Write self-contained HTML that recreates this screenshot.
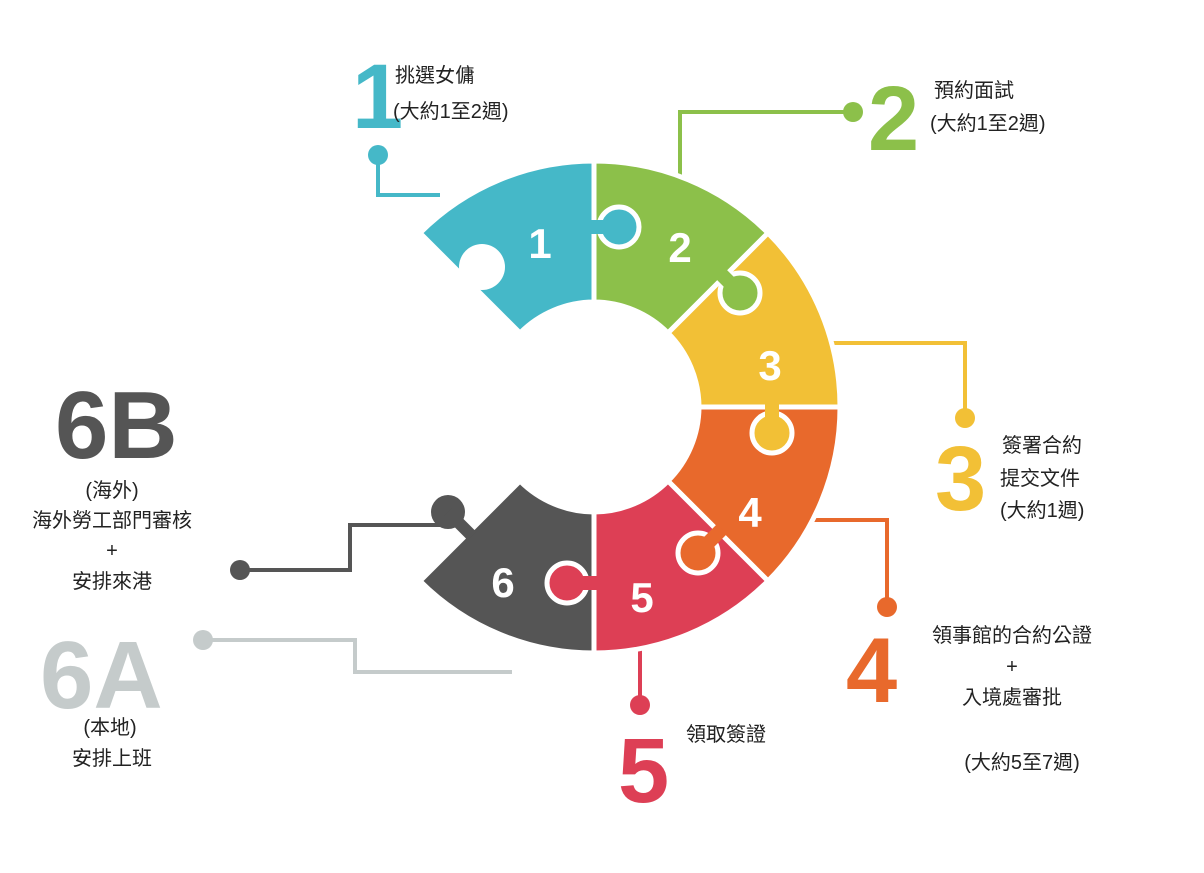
<!DOCTYPE html>
<html><head><meta charset="utf-8"><style>
html,body{margin:0;padding:0;background:#fff;}
body{width:1204px;height:868px;overflow:hidden;}
svg text{font-family:"Liberation Sans","Noto Sans CJK TC",sans-serif;}
.t{font-size:20px;fill:#222;}
.big{font-weight:bold;}
</style></head><body>
<svg width="1204" height="868" viewBox="0 0 1204 868" xmlns="http://www.w3.org/2000/svg">
<g fill="none" stroke-width="4">
<path d="M378 155 V195 H440" stroke="#45b8c8"/>
<path d="M680 180 V112 H853" stroke="#8cc04a"/>
<path d="M830 343 H965 V418" stroke="#f2c036"/>
<path d="M810 520 H887 V607" stroke="#e8692c"/>
<path d="M640 650 V705" stroke="#dd3f55"/>
<path d="M440 525 H350 V570 H240" stroke="#555"/>
<path d="M203 640 H355 V672 H512" stroke="#c5cbcb"/>
</g>
<circle cx="378" cy="155" r="10" fill="#45b8c8"/>
<circle cx="853" cy="112" r="10" fill="#8cc04a"/>
<circle cx="965" cy="418" r="10" fill="#f2c036"/>
<circle cx="887" cy="607" r="10" fill="#e8692c"/>
<circle cx="640" cy="705" r="10" fill="#dd3f55"/>
<circle cx="240" cy="570" r="10" fill="#555"/>
<circle cx="203" cy="640" r="10" fill="#c5cbcb"/>

<g stroke="#fff" stroke-width="5">
<path d="M594 161 A246 246 0 0 0 420 233 L520 333 A105 105 0 0 1 594 302 Z" fill="#45b8c8"/>
<path d="M768 233 A246 246 0 0 0 594 161 L594 302 A105 105 0 0 1 668 333 Z" fill="#8cc04a"/>
<path d="M840 407 A246 246 0 0 0 768 233 L668 333 A105 105 0 0 1 699 407 Z" fill="#f2c036"/>
<path d="M768 581 A246 246 0 0 0 840 407 L699 407 A105 105 0 0 1 668 481 Z" fill="#e8692c"/>
<path d="M594 653 A246 246 0 0 0 768 581 L668 481 A105 105 0 0 1 594 512 Z" fill="#dd3f55"/>
<path d="M420 581 A246 246 0 0 0 594 653 L594 512 A105 105 0 0 1 520 481 Z" fill="#555"/>
</g>
<g stroke="#fff" stroke-width="5">
<circle cx="619" cy="227" r="20" fill="#45b8c8"/>
<circle cx="740" cy="293" r="20" fill="#8cc04a"/>
<circle cx="772" cy="433" r="20" fill="#f2c036"/>
<circle cx="698" cy="553" r="20" fill="#e8692c"/>
<circle cx="567" cy="583" r="20" fill="#dd3f55"/>
</g>
<g stroke-width="14" fill="none">
<line x1="619" y1="227" x2="588" y2="227" stroke="#45b8c8"/>
<line x1="740" y1="293" x2="718" y2="271" stroke="#8cc04a"/>
<line x1="772" y1="433" x2="772" y2="402" stroke="#f2c036"/>
<line x1="698" y1="553" x2="722" y2="529" stroke="#e8692c"/>
<line x1="567" y1="583" x2="599" y2="583" stroke="#dd3f55"/>
</g>
<circle cx="482" cy="267" r="23" fill="#fff"/>
<line x1="482" y1="267" x2="458" y2="291" stroke="#fff" stroke-width="16"/>
<circle cx="448" cy="512" r="17" fill="#555"/>
<line x1="448" y1="512" x2="472" y2="536" stroke="#555" stroke-width="12"/>

<g fill="#fff" font-size="42" text-anchor="middle">
<text x="540" y="258" class="big">1</text>
<text x="680" y="262" class="big">2</text>
<text x="770" y="380" class="big">3</text>
<text x="750" y="527" class="big">4</text>
<text x="642" y="612" class="big">5</text>
<text x="503" y="597" class="big">6</text>
</g>

<text x="352" y="128" font-size="92" fill="#45b8c8" class="big">1</text>
<text x="395" y="82" class="t">挑選女傭</text>
<text x="393" y="118" class="t">(大約1至2週)</text>

<text x="868" y="150" font-size="92" fill="#8cc04a" class="big">2</text>
<text x="934" y="97" class="t">預約面試</text>
<text x="930" y="130" class="t">(大約1至2週)</text>

<text x="935" y="510" font-size="92" fill="#f2c036" class="big">3</text>
<text x="1002" y="452" class="t">簽署合約</text>
<text x="1000" y="485" class="t">提交文件</text>
<text x="1000" y="517" class="t">(大約1週)</text>

<text x="846" y="702" font-size="92" fill="#e8692c" class="big">4</text>
<g text-anchor="middle">
<text x="1012" y="642" class="t">領事館的合約公證</text>
<text x="1012" y="673" class="t">+</text>
<text x="1012" y="704" class="t">入境處審批</text>
<text x="1022" y="769" class="t">(大約5至7週)</text>
</g>

<text x="618" y="802" font-size="92" fill="#dd3f55" class="big">5</text>
<text x="686" y="741" class="t">領取簽證</text>

<text x="55" y="458" font-size="96" fill="#555" class="big">6B</text>
<g text-anchor="middle">
<text x="112" y="497" class="t">(海外)</text>
<text x="112" y="527" class="t">海外勞工部門審核</text>
<text x="112" y="557" class="t">+</text>
<text x="112" y="588" class="t">安排來港</text>
</g>
<text x="40" y="708" font-size="96" fill="#c5cbcb" class="big">6A</text>
<g text-anchor="middle">
<text x="110" y="734" class="t">(本地)</text>
<text x="112" y="765" class="t">安排上班</text>
</g>
</svg>
</body></html>
